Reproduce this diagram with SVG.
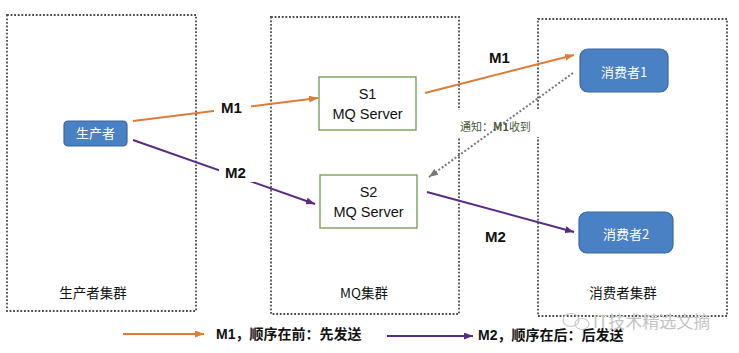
<svg xmlns="http://www.w3.org/2000/svg" width="739" height="353" viewBox="0 0 739 353">
<style>
.cluster{fill:none;stroke:#4a4a4a;stroke-width:1.8;stroke-dasharray:1.8 1.8}
.cl{font-family:"Noto Sans CJK SC",sans-serif;font-size:13.5px;fill:#111;text-anchor:middle}
.blue{fill:#4a80c4;stroke:#3a679c;stroke-width:1.2}
.wt{font-family:"Noto Sans CJK SC",sans-serif;font-size:13px;fill:#fff;text-anchor:middle}
.srv{fill:#fff;stroke:#6f9a4f;stroke-width:1.3}
.st{font-family:"Liberation Sans","Noto Sans CJK SC",sans-serif;font-size:14.5px;fill:#111;text-anchor:middle}
.or{stroke:#e07a36;stroke-width:2;fill:none}
.pu{stroke:#5a2a86;stroke-width:2;fill:none}
.dot{stroke:#777;stroke-width:2;stroke-dasharray:2 2;fill:none}
.ml{font-family:"Liberation Sans",sans-serif;font-size:15px;font-weight:bold;fill:#111}
.lg{font-family:"Liberation Sans","Noto Sans CJK SC",sans-serif;font-size:14px;font-weight:bold;fill:#111}
</style>
<defs>
<marker id="ao" markerUnits="userSpaceOnUse" markerWidth="9" markerHeight="7" refX="9" refY="3.5" orient="auto"><path d="M0,0 L9,3.5 L0,7 z" fill="#e07a36"/></marker>
<marker id="ap" markerUnits="userSpaceOnUse" markerWidth="9" markerHeight="7" refX="9" refY="3.5" orient="auto"><path d="M0,0 L9,3.5 L0,7 z" fill="#5a2a86"/></marker>
<marker id="ag" markerUnits="userSpaceOnUse" markerWidth="9" markerHeight="7" refX="9" refY="3.5" orient="auto"><path d="M0,0 L9,3.5 L0,7 z" fill="#777"/></marker>
</defs>
<rect width="739" height="353" fill="#fff"/>
<g id="producer-cluster">
<rect class="cluster" x="7" y="15" width="189" height="296"/>
<text class="cl" x="93" y="298">生产者集群</text>
</g>
<g id="mq-cluster">
<rect class="cluster" x="271" y="17" width="188" height="297"/>
<text class="cl" x="364" y="298">MQ集群</text>
</g>
<g id="consumer-cluster">
<rect class="cluster" x="538" y="19" width="189" height="297"/>
<text class="cl" x="623" y="298">消费者集群</text>
</g>
<g id="producer">
<rect class="blue" x="64" y="121" width="63" height="25" rx="4"/>
<text class="wt" x="95.5" y="138">生产者</text>
</g>
<g id="s1">
<rect class="srv" x="319" y="77" width="97" height="53"/>
<text class="st" x="367.5" y="99">S1</text>
<text class="st" x="367.5" y="119">MQ Server</text>
</g>
<g id="s2">
<rect class="srv" x="320" y="175" width="97" height="53"/>
<text class="st" x="368.5" y="197">S2</text>
<text class="st" x="368.5" y="217">MQ Server</text>
</g>
<g id="consumer1">
<rect class="blue" x="580" y="49" width="88" height="43" rx="8"/>
<text class="wt" x="624" y="77">消费者1</text>
</g>
<g id="consumer2">
<rect class="blue" x="579" y="212" width="94" height="41" rx="8"/>
<text class="wt" x="626" y="239">消费者2</text>
</g>
<g id="connectors">
<line class="or" x1="133" y1="121" x2="318" y2="98" marker-end="url(#ao)"/>
<line class="pu" x1="133" y1="140" x2="315" y2="204" marker-end="url(#ap)"/>
<line class="or" x1="425" y1="93" x2="574" y2="55" marker-end="url(#ao)"/>
<line class="pu" x1="427" y1="192" x2="574" y2="232" marker-end="url(#ap)"/>
<rect x="454" y="110" width="91" height="27" fill="#fff"/>
<line class="dot" x1="573" y1="73" x2="429" y2="177" marker-end="url(#ag)"/>
<rect x="214" y="100" width="37" height="17" fill="#fff"/>
<text class="ml" x="221" y="113">M1</text>
<rect x="219" y="164" width="35" height="18" fill="#fff"/>
<text class="ml" x="225" y="178">M2</text>
<text class="ml" x="489" y="63">M1</text>
<text class="ml" x="485" y="242">M2</text>
<text x="460" y="131" font-family="Noto Sans CJK SC,sans-serif" font-size="11" fill="#4d5a3a">通知：<tspan font-weight="bold">M1</tspan>收到</text>
</g>
<g id="legend">
<line class="or" x1="123" y1="334" x2="204" y2="334" marker-end="url(#ao)"/>
<text class="lg" x="216" y="339">M1，顺序在前：先发送</text>
<line class="pu" x1="387" y1="336" x2="473" y2="336" marker-end="url(#ap)"/>
<text class="lg" x="478" y="340">M2，顺序在后：后发送</text>
</g>
<g id="watermark" fill="none" stroke="#c8c8c8" stroke-width="1.2">
<ellipse cx="571" cy="320" rx="8" ry="6.5"/>
<ellipse cx="582" cy="324" rx="7" ry="5.5"/>
<text x="593" y="328" stroke="none" fill="#c4c4c4" font-family="Noto Sans CJK SC,sans-serif" font-size="17">IT技术精选文摘</text>
</g>
</svg>
